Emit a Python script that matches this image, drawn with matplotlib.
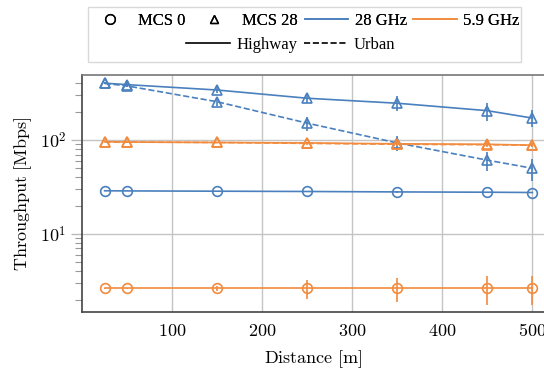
"""Throughput vs distance for 28 GHz and 5.9 GHz links."""

import matplotlib

matplotlib.use("Agg")
import matplotlib.pyplot as plt
from matplotlib.lines import Line2D
from matplotlib.patches import Rectangle
from matplotlib.ticker import FixedLocator, FuncFormatter, LogLocator, NullFormatter

plt.rcParams["font.family"] = ["Liberation Serif", "DejaVu Serif"]
plt.rcParams["mathtext.fontset"] = "cm"

BLUE = "#4a80bd"
ORANGE = "#f28b3e"

distance = [25, 50, 150, 250, 350, 450, 500]

# MCS 28
hw_28_mcs28 = [402, 388, 340, 278, 246, 205, 171]
hw_28_mcs28_err = [8, 12, 25, 30, 45, 45, 35]
ur_28_mcs28 = [400, 376, 255, 151, 93, 61, 50]
ur_28_mcs28_err = [8, 12, 25, 25, 17, 14, 13]
hw_59_mcs28 = [96, 95, 94, 93, 91, 90, 88]
hw_59_mcs28_err = [1, 1, 2, 3, 5, 4, 4]
ur_59_mcs28 = [95, 95, 94, 92, 90, 89, 88]
ur_59_mcs28_err = [1, 1, 2, 3, 4, 4, 4]

# MCS 0
hw_28_mcs0 = [28.8, 28.7, 28.5, 28.3, 28.0, 27.8, 27.6]
hw_28_mcs0_err = [0.2, 0.2, 0.3, 0.3, 0.4, 0.4, 0.4]
hw_59_mcs0 = [2.64, 2.64, 2.64, 2.64, 2.64, 2.64, 2.64]
hw_59_mcs0_err = [0.03, 0.05, 0.15, 0.6, 0.75, 0.9, 0.9]

series = [
    (hw_28_mcs28, hw_28_mcs28_err, BLUE, "^", "-"),
    (ur_28_mcs28, ur_28_mcs28_err, BLUE, "^", "--"),
    (hw_59_mcs28, hw_59_mcs28_err, ORANGE, "^", "-"),
    (ur_59_mcs28, ur_59_mcs28_err, ORANGE, "^", "--"),
    (hw_28_mcs0, hw_28_mcs0_err, BLUE, "o", "-"),
    (hw_59_mcs0, hw_59_mcs0_err, ORANGE, "o", "-"),
]

fig = plt.figure(figsize=(5.44, 3.70), dpi=100)
ax = fig.add_axes([0.151, 0.157, 0.849, 0.64])

for vals, err, color, marker, ls in series:
    ax.errorbar(
        distance, vals, yerr=err, color=color, ecolor=color, linestyle=ls,
        linewidth=1.2, elinewidth=1.2, marker=marker, markersize=7,
        markerfacecolor="none", markeredgewidth=1.2, capsize=0,
    )

ax.set_yscale("log")
ax.set_xlim(0, 513)
ax.set_ylim(1.48, 490)

ax.xaxis.set_major_locator(FixedLocator([100, 200, 300, 400, 500]))
ax.xaxis.set_major_formatter(FuncFormatter(lambda v, _: rf"${int(v)}$"))
ax.yaxis.set_major_locator(LogLocator(base=10, numticks=10))
ax.yaxis.set_major_formatter(FuncFormatter(lambda v, _: rf"$10^{{{int(round(__import__('math').log10(v)))}}}$"))
ax.yaxis.set_minor_locator(LogLocator(base=10, subs=range(2, 10), numticks=10))
ax.yaxis.set_minor_formatter(NullFormatter())

ax.tick_params(axis="x", length=0, labelsize=13, pad=8)
ax.tick_params(axis="y", which="major", length=8, width=1, color="#bbbbbb", labelsize=13)
ax.tick_params(axis="y", which="minor", length=5, width=0.8, color="#999999")
ax.grid(True, which="major", color="#c4c4c4", linewidth=1)

ax.spines["right"].set_visible(False)
ax.spines["top"].set_color("#777777")
ax.spines["left"].set_color("#444444")
ax.spines["bottom"].set_color("#444444")
for s in ax.spines.values():
    s.set_linewidth(1.2)

ax.set_xlabel(r"$\mathrm{Distance\ [m]}$", fontsize=13, labelpad=6)
ax.set_ylabel(r"$\mathrm{Throughput\ [Mbps]}$", fontsize=13, labelpad=4)

# legend: frame plus two rows
fig.add_artist(Rectangle((88 / 544, 1 - 62 / 370), (521 - 88) / 544, (62 - 7) / 370,
                         transform=fig.transFigure, facecolor="white",
                         edgecolor="#d9d9d9", linewidth=1))
row1 = [
    Line2D([], [], color="black", marker="o", markerfacecolor="none", linestyle="none", markersize=7),
    Line2D([], [], color="black", marker="^", markerfacecolor="none", linestyle="none", markersize=6),
    Line2D([], [], color=BLUE, linewidth=1.2),
    Line2D([], [], color=ORANGE, linewidth=1.2),
]
leg1 = fig.legend(row1, ["MCS 0", "MCS 28", "28 GHz", "5.9 GHz"], ncol=4, frameon=False,
                  loc="center", bbox_to_anchor=(304 / 544, 1 - 21 / 370), fontsize=12,
                  handlelength=2.6, columnspacing=0.4, handletextpad=0.4)
fig.add_artist(leg1)
row2 = [
    Line2D([], [], color="black", linewidth=1.2),
    Line2D([], [], color="black", linewidth=1.2, linestyle="--"),
]
fig.legend(row2, ["Highway", "Urban"], ncol=2, frameon=False, loc="center",
           bbox_to_anchor=(291 / 544, 1 - 45 / 370), fontsize=12,
           handlelength=2.6, columnspacing=0.4, handletextpad=0.4)

fig.savefig("out.png", dpi=100)
